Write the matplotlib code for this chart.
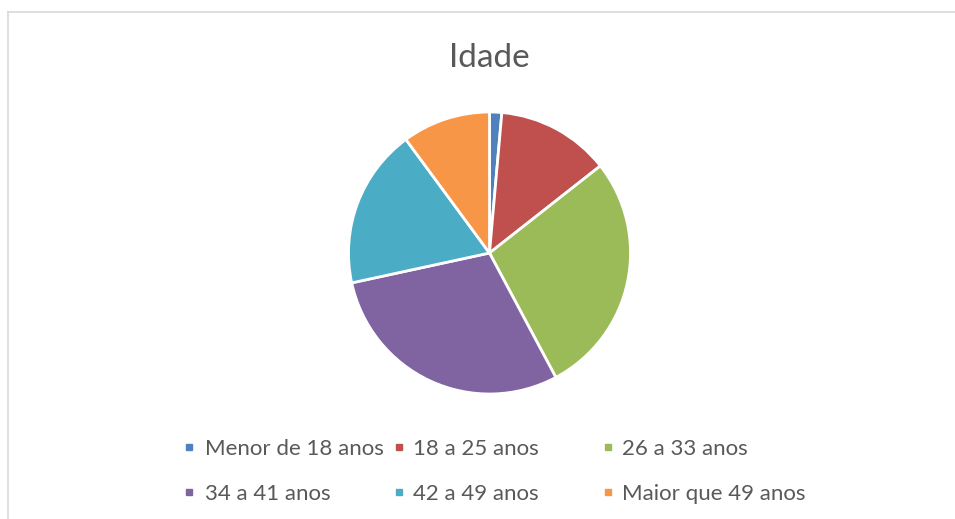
import matplotlib.pyplot as plt
from matplotlib.lines import Line2D
from matplotlib.patches import Rectangle

# Faixas etarias e percentuais
faixas = ['Menor de 18 anos', '18 a 25 anos', '26 a 33 anos',
          '34 a 41 anos', '42 a 49 anos', 'Maior que 49 anos']
valores = [1.4, 13.0, 27.8, 29.4, 18.3, 10.1]
cores = ['#4F81BD', '#C0504D', '#9BBB59', '#8064A2', '#4BACC6', '#F79646']

W, H = 955, 519
plt.rcParams['font.family'] = ['Lato', 'DejaVu Sans']
fig = plt.figure(figsize=(W / 100, H / 100), dpi=100)

# borda do grafico
fig.add_artist(Line2D([8 / W, 1], [1 - 11.5 / H, 1 - 11.5 / H], color='#d9d9d9', lw=1.2))
fig.add_artist(Line2D([8 / W, 8 / W], [0, 1 - 11.5 / H], color='#d9d9d9', lw=1.2))

# pizza
cx, cy, r = 489.5, 253, 141
ax = fig.add_axes([(cx - r) / W, (H - cy - r) / H, 2 * r / W, 2 * r / H])
ax.pie(valores, colors=cores, startangle=90, counterclock=False,
       wedgeprops=dict(edgecolor='white', linewidth=2))
ax.set_xlim(-1, 1)
ax.set_ylim(-1, 1)
ax.set_aspect('equal')
ax.axis('off')

fig.text(489 / W, 1 - 67 / H, 'Idade', ha='center', va='baseline',
         fontsize=24, color='#595959')

# legenda
marca_x = [188.5, 399, 608]
texto_x = [205, 412.5, 622]
marca_y = [446.5, 491.5]
base_y = [455, 500.5]
for i, nome in enumerate(faixas):
    c, l = i % 3, i // 3
    fig.add_artist(Rectangle(((marca_x[c] - 3) / W, 1 - (marca_y[l] + 3) / H), 6 / W, 6 / H,
                             color=cores[i], transform=fig.transFigure))
    fig.text(texto_x[c] / W, 1 - base_y[l] / H, nome, ha='left', va='baseline',
             fontsize=16, color='#595959')

fig.savefig('out.png', dpi=100)
